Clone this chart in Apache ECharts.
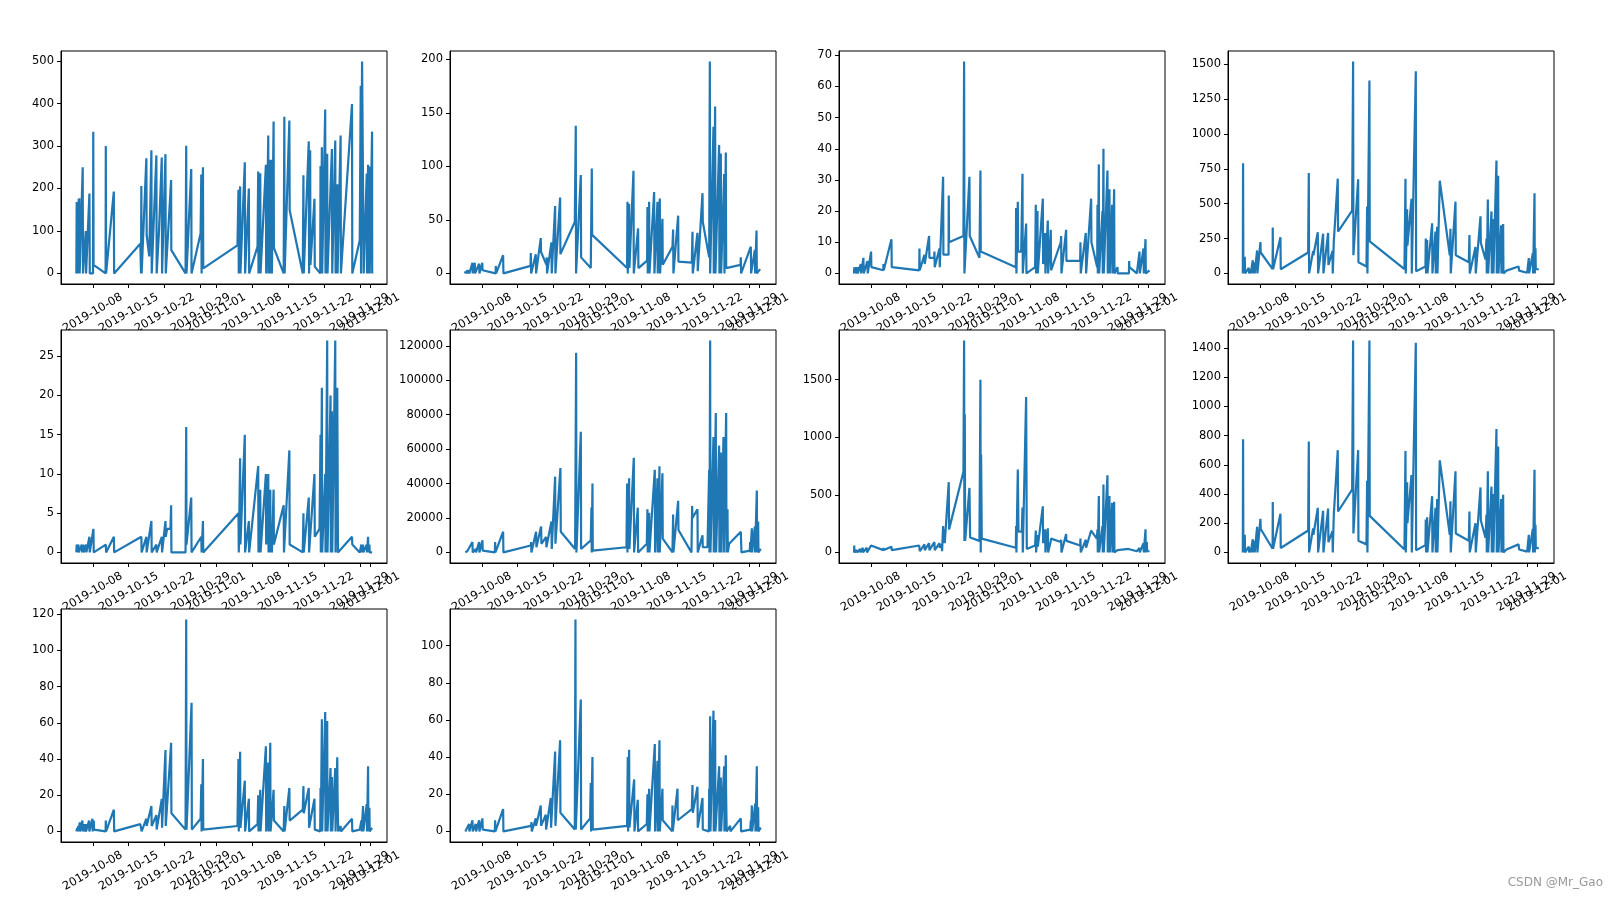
<!DOCTYPE html>
<html><head><meta charset="utf-8">
<script src="https://cdn.jsdelivr.net/npm/echarts@6/dist/echarts.min.js"></script>
<style>html,body{margin:0;padding:0;background:#fff}#c{width:1619px;height:898px}</style>
</head><body><div id="c"></div>
<script>
// x tick labels (dates)
const xTickLabels = ['2019-10-08','2019-10-15','2019-10-22','2019-10-29','2019-11-01','2019-11-08','2019-11-15','2019-11-22','2019-11-29','2019-12-01'];
// y tick labels per subplot
const yTicks1 = [0,100,200,300,400,500];
const yTicks2 = [0,50,100,150,200];
const yTicks3 = [0,10,20,30,40,50,60,70];
const yTicks4 = [0,250,500,750,1000,1250,1500];
const yTicks5 = [0,5,10,15,20,25];
const yTicks6 = [0,20000,40000,60000,80000,100000,120000];
const yTicks7 = [0,500,1000,1500];
const yTicks8 = [0,200,400,600,800,1000,1200,1400];
const yTicks9 = [0,20,40,60,80,100,120];
const yTicks10 = [0,20,40,60,80,100];

// series: [day (day 8 = 2019-10-08, day 32 = 2019-11-01), value]
const s1 = [[4.80,0],[4.87,168],[4.92,0],[5.26,175],[5.30,0],[5.39,177],[5.45,0],[6.04,250],[6.10,0],[6.63,100],[6.70,0],[7.35,188],[7.42,0],[8.05,0],[8.10,334],[8.16,20],[10.50,0],[10.54,300],[10.60,0],[12.10,193],[12.16,0],[17.26,70],[17.40,0],[17.46,206],[17.52,0],[18.44,271],[18.50,90],[19.00,40],[19.42,290],[19.48,0],[20.39,278],[20.45,0],[20.90,100],[21.44,273],[21.50,0],[22.16,281],[22.22,0],[23.26,220],[23.30,55],[26.07,0],[26.20,301],[26.26,0],[27.18,246],[27.24,0],[29.00,94],[29.14,233],[29.20,0],[29.46,250],[29.52,12],[36.18,66],[36.38,197],[36.44,0],[36.70,205],[36.76,0],[37.61,262],[37.67,0],[38.40,200],[38.46,0],[40.09,63],[40.22,240],[40.28,0],[40.62,236],[40.68,0],[41.72,256],[41.78,0],[42.18,325],[42.24,0],[42.57,268],[42.63,0],[42.83,268],[42.89,0],[43.22,358],[43.28,60],[45.18,0],[45.31,369],[45.37,0],[46.29,360],[46.35,149],[48.90,0],[49.03,231],[49.09,0],[50.07,311],[50.13,0],[50.34,290],[50.40,20],[51.18,176],[51.24,16],[52.30,0],[52.36,253],[52.42,0],[52.62,297],[52.68,0],[53.27,386],[53.33,0],[53.66,282],[53.72,0],[54.58,293],[54.64,0],[55.23,313],[55.29,0],[55.62,210],[55.68,0],[56.27,325],[56.33,0],[58.49,399],[58.55,0],[60.00,78],[60.19,442],[60.25,0],[60.45,499],[60.71,499],[60.77,0],[61.36,235],[61.42,0],[61.62,256],[61.68,0],[61.88,252],[61.94,0],[62.40,334],[62.42,0]];
const s2 = [[4.75,0],[4.80,2],[4.88,0],[5.21,3],[5.28,0],[5.53,3],[5.60,0],[6.18,10],[6.25,0],[6.64,10],[6.70,0],[7.48,9],[7.55,0],[8.10,10],[8.16,3],[10.70,0],[10.73,7],[10.80,0],[12.16,17],[12.22,0],[17.50,7],[17.55,19],[17.62,0],[18.52,18],[18.58,0],[19.49,33],[19.55,20],[20.60,8],[20.66,15],[20.72,0],[21.57,29],[21.63,0],[22.29,63],[22.35,0],[23.26,71],[23.32,18],[26.12,48],[26.31,138],[26.37,0],[27.29,92],[27.35,15],[29.23,5],[29.43,98],[29.50,36],[36.30,5],[36.38,67],[36.44,0],[36.70,65],[36.76,5],[37.55,96],[37.61,0],[38.45,42],[38.51,5],[40.20,12],[40.27,62],[40.33,0],[40.60,67],[40.66,0],[41.57,76],[41.63,0],[42.22,67],[42.28,0],[42.68,70],[42.74,0],[43.19,51],[43.25,8],[45.14,25],[45.27,41],[45.33,0],[46.25,54],[46.31,11],[48.91,10],[49.04,39],[49.10,0],[50.01,38],[50.07,2],[50.99,75],[51.05,48],[52.29,15],[52.42,198],[52.48,0],[53.13,137],[53.19,0],[53.45,156],[53.51,0],[54.23,120],[54.29,0],[54.56,112],[54.62,0],[55.21,93],[55.27,0],[55.53,113],[55.60,5],[58.40,8],[58.45,15],[58.51,0],[60.40,25],[60.46,0],[61.18,22],[61.24,0],[61.51,40],[61.57,0],[62.22,4]];
const s3 = [[4.75,0],[4.78,2],[4.85,0],[5.08,2],[5.14,0],[5.40,2],[5.46,0],[6.05,3],[6.11,0],[6.57,5],[6.63,0],[7.35,4],[7.41,0],[8.06,7],[8.12,2],[10.44,1],[10.47,3],[10.53,1],[12.03,11],[12.09,2],[17.44,1],[17.48,8],[17.54,1],[18.45,6],[18.51,3],[19.36,12],[19.42,5],[20.36,5],[20.40,7],[20.46,2],[21.38,8],[21.44,2],[22.09,31],[22.15,6],[23.15,6],[23.19,25],[23.25,10],[26.05,12],[26.18,68],[26.24,0],[27.22,31],[27.28,12],[29.17,5],[29.36,33],[29.42,7],[36.25,2],[36.31,21],[36.37,0],[36.64,23],[36.70,7],[37.30,7],[37.55,32],[37.61,0],[38.26,16],[38.32,0],[40.01,2],[40.14,22],[40.20,0],[40.47,20],[40.53,0],[41.51,24],[41.57,3],[41.96,13],[42.02,0],[42.48,17],[42.54,0],[43.06,14],[43.12,1],[45.01,10],[45.08,12],[45.14,0],[46.05,14],[46.11,4],[48.78,4],[48.84,10],[48.90,0],[49.88,13],[49.94,0],[50.92,24],[50.98,10],[52.10,2],[52.16,22],[52.22,0],[52.42,35],[52.48,0],[53.13,20],[53.19,0],[53.32,40],[53.38,0],[54.10,33],[54.16,0],[54.49,27],[54.55,0],[55.01,22],[55.07,0],[55.40,27],[55.46,0],[56.05,2],[56.11,0],[58.28,0],[58.32,4],[58.38,2],[59.82,0],[60.34,7],[60.40,0],[61.12,8],[61.18,0],[61.51,11],[61.57,0],[62.29,1]];
const s4 = [[4.70,0],[4.75,790],[4.81,0],[5.08,120],[5.14,0],[5.34,5],[5.86,40],[5.92,0],[6.18,30],[6.24,0],[6.64,95],[6.70,0],[6.96,80],[7.02,0],[7.48,165],[7.54,0],[8.13,225],[8.19,150],[10.50,30],[10.53,330],[10.59,30],[12.03,260],[12.09,30],[17.42,150],[17.55,720],[17.61,0],[18.39,160],[18.45,130],[19.30,295],[19.36,0],[20.34,285],[20.40,0],[21.31,290],[21.37,60],[22.16,160],[22.22,0],[22.42,230],[23.19,680],[23.25,300],[25.99,450],[26.18,1520],[26.24,130],[27.16,675],[27.22,80],[28.78,50],[28.91,480],[28.97,0],[29.36,1385],[29.42,230],[36.18,30],[36.38,680],[36.44,0],[36.70,460],[36.76,200],[37.55,535],[37.61,0],[38.39,1450],[38.45,15],[40.27,50],[40.33,250],[40.39,0],[40.60,240],[40.66,0],[41.57,360],[41.63,0],[42.22,300],[42.28,0],[42.55,335],[42.61,0],[43.06,665],[45.01,130],[45.14,320],[45.20,0],[46.12,515],[46.18,130],[48.71,80],[48.84,275],[48.90,0],[50.01,190],[50.07,0],[50.99,410],[51.05,220],[51.96,100],[52.16,250],[52.22,0],[52.42,530],[52.48,0],[53.13,445],[53.19,0],[53.45,390],[53.51,0],[54.10,810],[54.16,0],[54.43,700],[54.49,0],[55.01,345],[55.07,0],[55.40,355],[55.46,0],[56.05,20],[58.40,50],[58.45,60],[58.51,20],[60.08,5],[60.40,110],[60.46,0],[61.18,145],[61.24,0],[61.51,575],[61.57,0],[61.70,180],[61.76,30],[62.35,30]];
const s5 = [[4.80,0],[4.87,1],[4.93,0],[5.20,1],[5.26,0],[5.85,1],[5.91,0],[6.17,1],[6.23,0],[6.70,1],[6.76,0],[7.35,2],[7.41,0],[8.13,3],[8.19,0],[10.54,1],[10.60,0],[12.11,2],[12.17,0],[17.46,2],[17.52,0],[18.44,2],[18.50,0],[19.42,4],[19.48,0],[20.39,1],[20.45,0],[21.44,2],[21.50,0],[22.16,4],[22.22,2],[22.48,3],[23.13,3],[23.26,6],[23.32,0],[26.07,0],[26.20,16],[26.26,1],[27.18,7],[27.24,0],[29.14,2],[29.20,0],[29.46,4],[29.52,0],[36.38,5],[36.44,0],[36.70,12],[36.76,1],[37.61,15],[37.67,0],[38.40,4],[38.46,0],[40.22,11],[40.28,0],[40.62,8],[40.68,0],[41.72,10],[41.78,1],[42.18,10],[42.24,0],[42.57,8],[42.63,0],[42.83,3],[42.89,0],[43.22,8],[43.28,1],[45.18,6],[45.24,0],[46.29,13],[46.35,1],[48.90,0],[49.03,5],[49.09,0],[50.07,7],[50.13,0],[51.18,10],[51.24,2],[52.16,3],[52.36,15],[52.42,0],[52.62,21],[52.68,0],[53.27,10],[53.33,0],[53.66,27],[53.72,0],[54.31,20],[54.37,0],[54.58,18],[54.64,0],[55.23,27],[55.29,0],[55.62,21],[55.68,13],[55.75,0],[58.49,2],[58.55,1],[60.00,0],[60.32,1],[60.38,0],[60.64,1],[60.70,0],[61.36,1],[61.42,0],[61.62,2],[61.68,0],[61.88,1],[61.94,0],[62.40,0]];
const s6 = [[4.80,0],[4.88,1000],[4.94,0],[5.21,800],[5.27,0],[6.18,6000],[6.24,0],[6.83,2000],[6.89,0],[7.48,6000],[7.54,0],[8.13,7000],[8.19,1000],[10.55,0],[10.60,6000],[10.66,0],[12.16,12000],[12.22,0],[17.55,4000],[17.61,6000],[17.67,0],[18.58,12000],[18.64,3000],[19.56,15000],[19.62,5000],[20.53,9000],[20.59,3000],[21.57,18000],[21.63,2000],[22.29,44000],[22.35,5000],[23.32,49000],[23.39,12000],[26.18,2000],[26.38,116000],[26.44,0],[27.29,70000],[27.35,2000],[29.23,7000],[29.36,26000],[29.42,0],[29.56,40000],[29.62,1000],[36.18,3000],[36.31,40000],[36.37,0],[36.70,43000],[36.76,2000],[37.61,55000],[37.67,0],[38.39,26000],[38.45,0],[40.14,5000],[40.27,25000],[40.33,0],[40.60,23000],[40.66,0],[41.70,48000],[41.76,0],[42.22,43000],[42.28,0],[42.61,50000],[42.67,0],[43.19,46000],[43.25,8000],[45.14,0],[45.27,22000],[45.33,0],[46.25,30000],[46.31,13000],[48.84,0],[48.97,27000],[49.03,20000],[50.01,25000],[50.07,0],[50.99,10000],[51.05,3000],[51.96,3000],[52.29,48000],[52.35,0],[52.48,123000],[52.54,0],[53.13,67000],[53.19,0],[53.58,81000],[53.64,0],[54.23,62000],[54.29,0],[54.56,58000],[54.62,0],[55.08,67000],[55.14,0],[55.60,81000],[55.66,0],[55.86,25000],[55.92,0],[56.18,5000],[58.45,12000],[58.58,0],[60.20,1000],[60.27,6000],[60.33,0],[60.60,14000],[60.66,0],[61.18,15000],[61.24,0],[61.57,36000],[61.63,0],[61.83,18000],[61.89,0],[62.35,2000]];
const s7 = [[4.75,0],[4.78,60],[4.84,0],[5.00,10],[5.06,0],[5.27,20],[5.33,0],[5.92,30],[5.98,0],[6.44,40],[6.50,0],[7.22,40],[7.28,0],[8.06,60],[8.19,50],[10.44,20],[10.47,40],[10.53,20],[12.03,50],[12.09,20],[17.44,60],[17.48,60],[17.54,10],[18.45,70],[18.51,20],[19.36,80],[19.42,20],[20.40,90],[20.46,20],[21.38,80],[21.44,40],[21.83,70],[21.89,10],[22.09,230],[22.15,80],[22.35,200],[22.41,80],[23.19,610],[23.25,200],[26.05,700],[26.18,1840],[26.24,100],[26.31,1200],[26.38,100],[27.22,560],[27.35,130],[29.17,100],[29.36,1500],[29.42,0],[29.49,850],[29.62,120],[36.25,40],[36.31,230],[36.37,0],[36.64,720],[36.77,180],[37.42,180],[37.55,390],[37.61,0],[38.26,1350],[38.39,30],[40.01,60],[40.14,190],[40.20,0],[40.47,150],[40.53,50],[41.51,400],[41.57,80],[41.96,200],[42.02,0],[42.48,210],[42.54,0],[43.06,100],[43.12,120],[45.01,90],[45.08,110],[45.14,0],[46.05,160],[46.11,100],[48.78,60],[48.84,120],[48.90,0],[49.88,110],[49.94,40],[50.92,190],[51.05,190],[52.03,120],[52.16,200],[52.22,0],[52.42,490],[52.48,0],[53.13,230],[53.19,0],[53.32,590],[53.38,0],[54.10,670],[54.16,0],[54.49,490],[54.55,0],[55.01,430],[55.07,0],[55.40,440],[55.46,0],[56.05,20],[58.19,30],[58.25,30],[59.82,10],[60.34,40],[60.40,0],[61.12,80],[61.18,0],[61.51,200],[61.57,0],[61.77,90],[61.83,10],[62.29,10]];
const s8 = [[4.70,0],[4.75,775],[4.81,0],[5.08,120],[5.14,0],[5.34,5],[5.86,40],[5.92,0],[6.18,30],[6.24,0],[6.64,90],[6.70,0],[6.96,80],[7.02,0],[7.48,175],[7.54,0],[8.13,230],[8.19,160],[10.50,25],[10.53,345],[10.59,25],[12.03,265],[12.09,30],[17.42,150],[17.55,760],[17.61,0],[18.39,165],[18.45,120],[19.30,305],[19.36,0],[20.34,285],[20.40,0],[21.31,300],[21.37,70],[22.16,145],[22.22,0],[22.42,260],[23.19,700],[23.25,280],[25.99,430],[26.18,1450],[26.24,130],[27.16,700],[27.22,80],[28.78,55],[28.91,490],[28.97,0],[29.36,1450],[29.42,250],[36.18,20],[36.38,695],[36.44,0],[36.70,480],[36.76,200],[37.55,530],[37.61,0],[38.39,1435],[38.45,15],[40.27,50],[40.33,225],[40.39,0],[40.60,240],[40.66,0],[41.57,385],[41.63,0],[42.22,305],[42.28,0],[42.55,365],[42.61,0],[43.06,630],[45.01,120],[45.14,350],[45.20,0],[46.12,555],[46.18,130],[48.71,80],[48.84,280],[48.90,0],[50.01,200],[50.07,0],[50.99,445],[51.05,220],[51.96,100],[52.16,260],[52.22,0],[52.42,555],[52.48,0],[53.13,450],[53.19,0],[53.45,400],[53.51,0],[54.10,845],[54.16,0],[54.43,725],[54.49,0],[55.01,365],[55.07,0],[55.40,395],[55.46,0],[56.05,20],[58.40,55],[58.45,60],[58.51,20],[60.08,5],[60.40,120],[60.46,0],[61.18,160],[61.24,0],[61.51,565],[61.57,0],[61.70,190],[61.76,30],[62.35,30]];
const s9 = [[4.80,0],[5.00,2],[5.06,0],[5.20,3],[5.26,0],[5.46,5],[5.52,0],[5.98,6],[6.04,0],[6.24,4],[6.30,0],[6.63,4],[6.69,0],[7.28,6],[7.34,0],[7.93,7],[7.99,0],[8.19,6],[8.25,1],[10.50,0],[10.54,6],[10.60,0],[12.11,12],[12.17,0],[17.26,4],[17.46,5],[17.52,0],[18.44,7],[18.50,3],[19.42,14],[19.48,3],[20.39,9],[20.45,1],[21.44,18],[21.50,2],[22.16,45],[22.22,3],[23.26,49],[23.32,10],[26.07,1],[26.20,117],[26.26,1],[27.24,71],[27.30,1],[29.00,7],[29.14,26],[29.20,0],[29.46,40],[29.52,1],[36.18,3],[36.38,40],[36.44,0],[36.70,44],[36.76,2],[37.61,28],[37.67,0],[38.40,18],[38.46,0],[40.09,4],[40.22,20],[40.28,0],[40.62,23],[40.68,0],[41.72,47],[41.78,0],[42.18,38],[42.24,0],[42.57,49],[42.63,0],[43.22,23],[43.28,6],[45.18,0],[45.31,14],[45.37,0],[46.29,24],[46.35,6],[48.90,12],[49.03,25],[49.09,10],[50.07,24],[50.13,2],[51.18,18],[51.24,1],[52.30,0],[52.36,24],[52.42,0],[52.62,62],[52.68,0],[53.27,66],[53.33,0],[53.66,61],[53.72,0],[54.31,35],[54.37,0],[54.58,30],[54.64,0],[55.23,35],[55.29,0],[55.62,41],[55.68,20],[55.80,0],[56.27,3],[56.33,0],[58.49,7],[58.55,0],[60.00,1],[60.32,6],[60.38,0],[60.64,14],[60.70,0],[61.36,15],[61.42,0],[61.62,36],[61.68,0],[61.88,13],[61.94,0],[62.40,2]];
const s10 = [[4.80,0],[4.88,1],[4.94,0],[5.53,4],[5.59,0],[6.18,6],[6.24,0],[6.83,4],[6.89,0],[7.48,6],[7.54,0],[8.13,7],[8.19,1],[10.55,0],[10.60,6],[10.66,0],[12.16,12],[12.22,0],[17.62,3],[17.68,5],[17.74,0],[18.52,7],[18.58,3],[19.49,14],[19.55,3],[20.47,9],[20.53,1],[21.44,18],[21.50,2],[22.29,43],[22.35,3],[23.26,49],[23.32,10],[26.12,1],[26.25,114],[26.31,1],[27.29,71],[27.35,1],[29.10,7],[29.23,26],[29.29,0],[29.56,40],[29.62,1],[36.30,3],[36.44,40],[36.50,0],[36.70,44],[36.76,2],[37.68,28],[37.74,0],[38.39,17],[38.45,0],[40.14,4],[40.27,20],[40.33,0],[40.60,23],[40.66,0],[41.70,47],[41.76,0],[42.22,38],[42.28,0],[42.61,49],[42.67,0],[43.19,23],[43.25,6],[45.08,0],[45.14,14],[45.20,0],[46.12,23],[46.18,6],[48.91,12],[49.04,25],[49.10,10],[50.01,24],[50.07,2],[50.99,18],[51.05,1],[52.23,0],[52.29,23],[52.35,0],[52.48,62],[52.54,0],[53.13,65],[53.19,0],[53.45,60],[53.51,0],[54.23,35],[54.29,0],[54.56,29],[54.62,0],[55.21,35],[55.27,0],[55.53,41],[55.59,20],[55.70,0],[56.38,3],[56.44,0],[58.45,7],[58.51,0],[60.30,1],[60.40,6],[60.46,0],[60.60,14],[60.66,0],[61.25,15],[61.31,0],[61.57,35],[61.63,0],[61.83,13],[61.89,0],[62.35,2]];

const seriesData = [s1,s2,s3,s4,s5,s6,s7,s8,s9,s10];
const yTicks = [yTicks1,yTicks2,yTicks3,yTicks4,yTicks5,yTicks6,yTicks7,yTicks8,yTicks9,yTicks10];

const DAY = 86400000;
const BASE = Date.UTC(2019, 8, 30); // day 0 -> 2019-09-30
const toTime = d => BASE + d * DAY;
const xTickValues = xTickLabels.map(s => { const p = s.split('-').map(Number); return Date.UTC(p[0], p[1]-1, p[2]); });
// the last tick label overlaps its neighbour; it is drawn by a second, line-less axis so both stay visible
const xTicksMain = xTickValues.slice(0, -1);
const xTicksLast = xTickValues.slice(-1);

let tMin = Infinity, tMax = -Infinity;
seriesData.forEach(s => s.forEach(p => { tMin = Math.min(tMin, p[0]); tMax = Math.max(tMax, p[0]); }));
const tPad = (tMax - tMin) * 0.05;

const colLeft = [61, 450, 839, 1228];
const rowTop = [51, 330, 609];
const W = 326, H = 233;
const FONT = 'DejaVu Sans';
const N = seriesData.length;

function makeX(i, r, ticks, lineShow) {
  return { type: 'value', gridIndex: i, position: 'bottom', min: toTime(tMin - tPad), max: toTime(tMax + tPad), z: r,
    axisLine: { show: lineShow, onZero: false, lineStyle: { color: '#000', width: 1 } },
    axisTick: { show: true, length: 4, inside: false, customValues: ticks, lineStyle: { color: '#000', width: 1 } },
    splitLine: { show: false },
    axisLabel: { show: true, customValues: ticks, rotate: 30, align: 'center', verticalAlign: 'middle',
      margin: 29, color: '#000', fontSize: 11.5, fontFamily: FONT, hideOverlap: false,
      showMinLabel: true, showMaxLabel: true,
      formatter: v => new Date(v).toISOString().slice(0, 10) } };
}

const grid = [], xAxis = [], yAxis = [], series = [];
seriesData.forEach((s, i) => {
  const r = Math.floor(i / 4), c = i % 4;
  grid.push({ left: colLeft[c], top: rowTop[r], width: W, height: H, show: true,
    backgroundColor: '#fff', borderColor: '#000', borderWidth: 1, z: r, containLabel: false });
  let vMin = Infinity, vMax = -Infinity;
  s.forEach(p => { vMin = Math.min(vMin, p[1]); vMax = Math.max(vMax, p[1]); });
  const vPad = (vMax - vMin) * 0.05;
  xAxis[i] = makeX(i, r, xTicksMain, true);
  xAxis[N + i] = makeX(i, r, xTicksLast, false);
  yAxis.push({ type: 'value', gridIndex: i, min: vMin - vPad, max: vMax + vPad, z: r,
    axisLine: { show: true, onZero: false, lineStyle: { color: '#000', width: 1 } },
    axisTick: { show: true, length: 4, inside: false, customValues: yTicks[i], lineStyle: { color: '#000', width: 1 } },
    splitLine: { show: false },
    axisLabel: { show: true, customValues: yTicks[i], margin: 7, color: '#000', fontSize: 11.5, fontFamily: FONT,
      showMinLabel: true, showMaxLabel: true,
      formatter: v => String(v) }
  });
  series.push({ type: 'line', xAxisIndex: i, yAxisIndex: i, showSymbol: false, symbol: 'none',
    z: 5 + r, clip: true, animation: false,
    lineStyle: { color: '#1f77b4', width: 2.2 },
    data: s.map(p => [toTime(p[0]), p[1]]) });
});

const chart = echarts.init(document.getElementById('c'), null, { renderer: 'canvas' });
chart.setOption({
  backgroundColor: '#fff',
  animation: false,
  grid, xAxis, yAxis, series,
  graphic: [{ type: 'text', right: 16, top: 877, z: 100,
    style: { text: 'CSDN @Mr_Gao', fill: '#999', fontSize: 12, fontFamily: FONT } }]
});
</script></body></html>
